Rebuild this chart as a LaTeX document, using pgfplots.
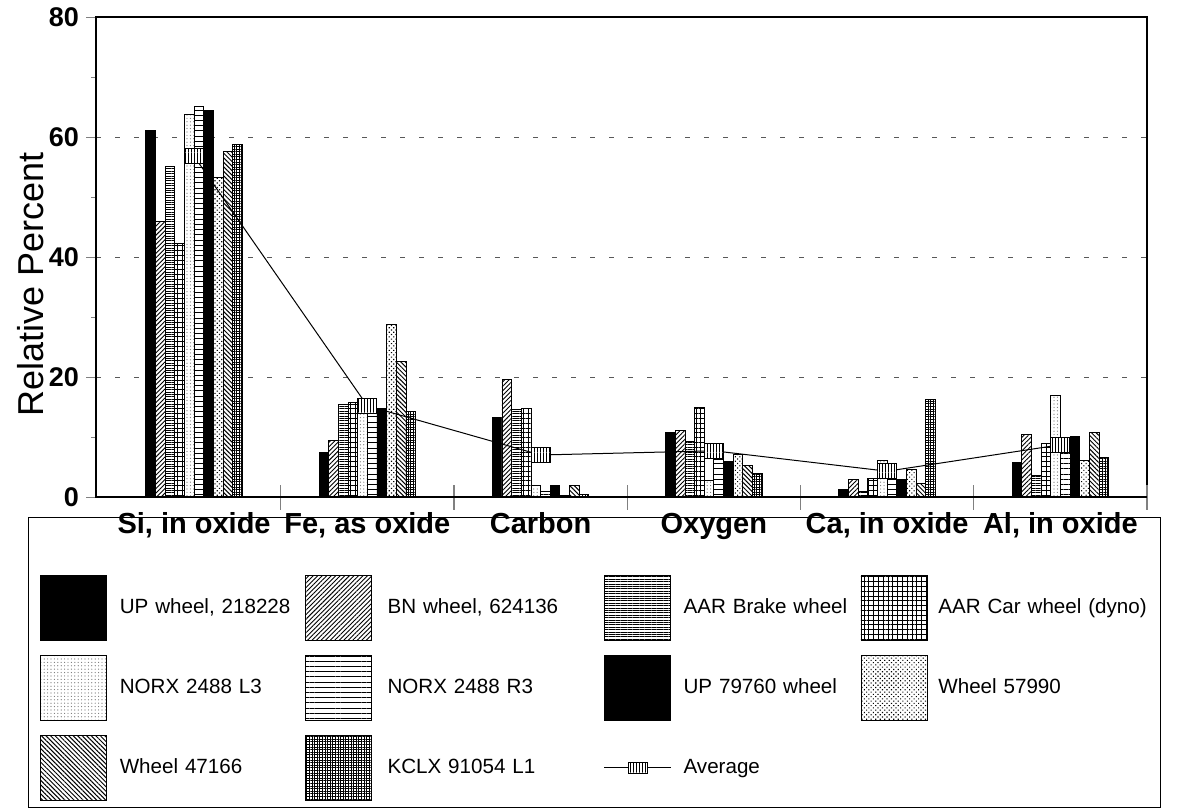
\documentclass[border=0pt]{standalone}
\usepackage{pgfplots}
\pgfplotsset{compat=1.18}
\usepackage{fontspec}
\setmainfont{Liberation Sans}
\usetikzlibrary{patterns,patterns.meta}

% dense vertical lines for the Average marker
\pgfdeclarepatternformonly{vdense}{\pgfpointorigin}{\pgfqpoint{1.6pt}{10pt}}{\pgfqpoint{1.6pt}{10pt}}{%
  \pgfpathrectangle{\pgfpointorigin}{\pgfqpoint{0.5pt}{10pt}}\pgfusepath{fill}}
\pgfdeclareplotmark{avgbox}{%
  \pgfpathrectangle{\pgfqpoint{-4.75pt}{-3.75pt}}{\pgfqpoint{9.5pt}{7.5pt}}%
  \pgfsetfillcolor{white}\pgfusepath{fill}%
  \pgfpathrectangle{\pgfqpoint{-4.75pt}{-3.75pt}}{\pgfqpoint{9.5pt}{7.5pt}}%
  \pgfsetfillpattern{vdense}{black}\pgfusepath{fill,stroke}}

\pgfplotsset{
  bb/.style={ybar, bar width=0.0557, draw=black, line width=0.4pt},
}

\begin{document}
\begin{tikzpicture}
\useasboundingbox (0,0) rectangle (588.5pt,-406pt);
\begin{axis}[
  at={(48pt,-248.5pt)}, anchor=south west,
  scale only axis, width=525.5pt, height=240pt,
  xmin=-0.566, xmax=5.5, ymin=0, ymax=80,
  xtick={0,1,2,3,4,5},
  xticklabels={{Si, in oxide},{Fe, as oxide},Carbon,Oxygen,{Ca, in oxide},{Al, in oxide}},
  xtick style={draw=none},
  xtick pos=bottom, ytick pos=left,
  ytick={0,20,40,60,80}, minor y tick num=1,
  tick align=outside, major tick length=5pt, minor tick length=2.5pt,
  ymajorgrids, major grid style={black!65, line width=0.5pt, dash pattern=on 2.5pt off 7pt},
  /pgf/number format/assume math mode=true,
  yticklabel style={font=\fontsize{13.5}{16}\selectfont\bfseries},
  xticklabel style={font=\fontsize{14.5}{17}\selectfont\bfseries, text height=10.5pt, text depth=3pt, yshift=1pt},
  ylabel={Relative Percent},
  ylabel style={at={(axis description cs:-0.062,0.442)}, anchor=center, font=\fontsize{18}{21}\selectfont},
  axis line style={line width=0.6pt},
  legend columns=4,
  legend style={
    at={(axis description cs:-0.0533,-0.1625)}, anchor=north west,
    draw=none, fill=none, inner sep=0pt, outer sep=0pt,
    row sep=7pt,
    font=\fontsize{10.3}{12}\selectfont,
    nodes={inner sep=0pt},
    /tikz/column 1/.style={column sep=6.5pt},
    /tikz/column 2/.style={column sep=4pt, nodes={text width=88.5pt}},
    /tikz/column 3/.style={column sep=8pt},
    /tikz/column 4/.style={column sep=3pt, nodes={text width=105pt}},
    /tikz/column 5/.style={column sep=6pt},
    /tikz/column 6/.style={column sep=3pt, nodes={text width=85.5pt}},
    /tikz/column 7/.style={column sep=5.5pt},
    /tikz/column 8/.style={nodes={text width=112pt}},
  },
  legend image code/.code={\draw[#1] (0pt,-16.25pt) rectangle (33pt,16.25pt);},
]
% UP wheel, 218228
\addplot[bb, bar shift=-0.25065, fill=black]
  coordinates {(0,61.1) (1,7.5) (2,13.2) (3,10.7) (4,1.3) (5,5.7)};
% BN wheel, 624136
\addplot[bb, bar shift=-0.19495, fill=white, postaction={pattern={Lines[angle=45,distance=1.6pt,line width=0.45pt]}}]
  coordinates {(0,45.9) (1,9.5) (2,19.6) (3,11.1) (4,2.9) (5,10.5)};
% AAR Brake wheel
\addplot[bb, bar shift=-0.13925, fill=white, postaction={pattern={Lines[angle=0,distance=1.2pt,line width=0.45pt]}}]
  coordinates {(0,55.1) (1,15.5) (2,14.6) (3,9.2) (4,1.0) (5,3.6)};
% AAR Car wheel (dyno)
\addplot[bb, bar shift=-0.08355, fill=white, postaction={pattern={Hatch[distance=2.4pt,line width=0.4pt]}}]
  coordinates {(0,42.2) (1,15.8) (2,14.7) (3,14.9) (4,3.1) (5,8.9)};
% NORX 2488 L3
\addplot[bb, bar shift=-0.02785, fill=white, postaction={pattern={Dots[distance=1.7pt,radius=0.3pt]}, pattern color=black!55}]
  coordinates {(0,63.8) (1,14.0) (2,2.0) (3,2.7) (4,6.1) (5,16.9)};
% NORX 2488 R3
\addplot[bb, bar shift=0.02785, fill=white, postaction={pattern={Lines[angle=0,distance=2.6pt,line width=0.4pt]}}]
  coordinates {(0,65.1) (1,14.2) (2,1.0) (3,6.3) (4,4.0) (5,8.5)};
% UP 79760 wheel
\addplot[bb, bar shift=0.08355, fill=black]
  coordinates {(0,64.4) (1,14.7) (2,2.0) (3,5.9) (4,2.9) (5,10.1)};
% Wheel 57990
\addplot[bb, bar shift=0.13925, fill=white, postaction={pattern={Dots[angle=45,distance=1.6pt,radius=0.4pt]}}]
  coordinates {(0,53.2) (1,28.7) (2,0.3) (3,7.1) (4,4.6) (5,6.1)};
% Wheel 47166
\addplot[bb, bar shift=0.19495, fill=white, postaction={pattern={Lines[angle=-45,distance=1.6pt,line width=0.5pt]}}]
  coordinates {(0,57.6) (1,22.6) (2,1.9) (3,5.3) (4,2.3) (5,10.7)};
% KCLX 91054 L1
\addplot[bb, bar shift=0.25065, fill=white, postaction={pattern={Hatch[distance=1.3pt,line width=0.4pt]}}]
  coordinates {(0,58.7) (1,14.2) (2,0.5) (3,3.9) (4,16.3) (5,6.6)};
% Average
\addplot[black, line width=0.5pt, mark=avgbox, mark options={solid, line width=0.4pt},
  legend image code/.code={%
    \draw[black,line width=0.5pt] (0pt,0pt) -- (33.5pt,0pt);
    \fill[white] (12pt,-2.75pt) rectangle (21.5pt,2.75pt);
    \draw[line width=0.4pt, pattern=vdense] (12pt,-2.75pt) rectangle (21.5pt,2.75pt);}]
  coordinates {(0,56.8) (1,15.2) (2,7.0) (3,7.7) (4,4.3) (5,8.7)};
\legend{{UP wheel, 218228},{BN wheel, 624136},AAR Brake wheel,AAR Car wheel (dyno),NORX 2488 L3,NORX 2488 R3,UP 79760 wheel,Wheel 57990,Wheel 47166,KCLX 91054 L1,Average}
\end{axis}
% category separators on the x axis
\begin{axis}[
  at={(48pt,-248.5pt)}, anchor=south west,
  scale only axis, width=525.5pt, height=240pt,
  xmin=-0.566, xmax=5.5, ymin=0, ymax=80,
  axis x line*=bottom, hide y axis,
  axis line style={line width=0.6pt},
  xtick={0.5,1.5,2.5,3.5,4.5,5.5}, xticklabels={},
  tick align=center, major tick length=12.5pt,
  xtick style={line width=0.6pt},
]
\end{axis}
\draw[line width=0.5pt] (14pt,-258.5pt) rectangle (580pt,-403.5pt);
\end{tikzpicture}
\end{document}
